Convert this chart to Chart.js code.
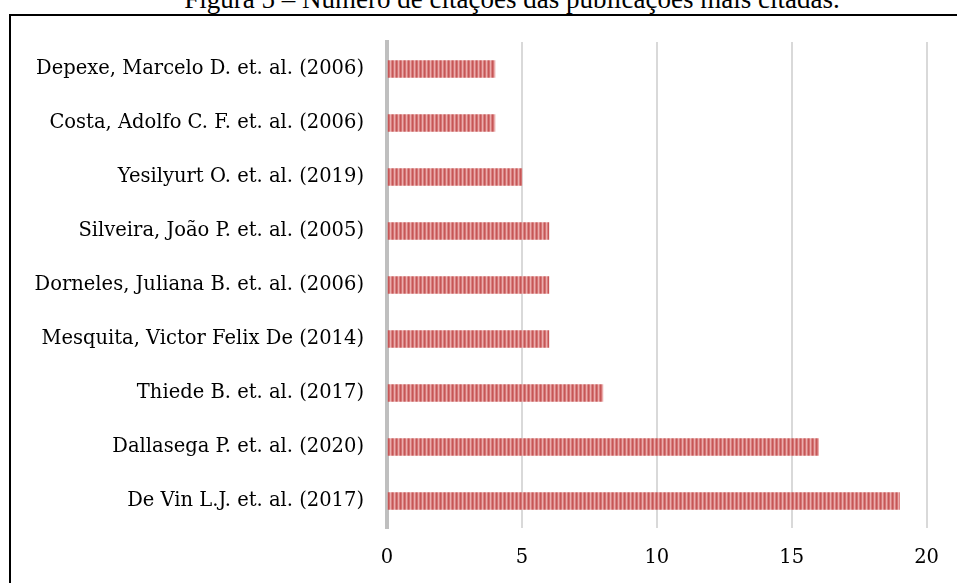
<!DOCTYPE html>
<html>
<head>
<meta charset="utf-8">
<script src="https://cdn.jsdelivr.net/npm/chart.js@4"></script>
<style>
    html, body { margin: 0; padding: 0; background: #fff; overflow: hidden; }
    body { width: 957px; height: 583px; position: relative; }
    #title {
        position: absolute; left: 0; width: 1024px; top: -14px;
        text-align: center; font: 27px "Liberation Serif", serif; color: #000;
        line-height: 27px; white-space: nowrap;
    }
    #frame {
        position: absolute; left: 9px; top: 14px; width: 960px; height: 600px;
        border: 2px solid #000; box-sizing: border-box;
    }
    #wrap { position: absolute; left: 0; top: 0; width: 957px; height: 583px; }
</style>
</head>
<body>
<div id="title">Figura 5 – Número de citações das publicações mais citadas.</div>
<div id="frame"></div>
<div id="wrap"><canvas id="citationsChart"></canvas></div>
<script>
    const publications = [
        "Depexe, Marcelo D. et. al. (2006)",
        "Costa, Adolfo C. F. et. al. (2006)",
        "Yesilyurt O. et. al. (2019)",
        "Silveira, João P. et. al. (2005)",
        "Dorneles, Juliana B. et. al. (2006)",
        "Mesquita, Victor Felix De (2014)",
        "Thiede B. et. al. (2017)",
        "Dallasega P. et. al. (2020)",
        "De Vin L.J. et. al. (2017)",
    ];
    const citations = [4, 4, 5, 6, 6, 6, 8, 16, 19];
    const xTicks = [0, 5, 10, 15, 20];

    // striped fill like the office "narrow vertical" pattern
    function stripes() {
        const c = document.createElement("canvas");
        c.width = 4;
        c.height = 1;
        const g = c.getContext("2d");
        const cols = ["#c65656", "#d47474", "#ebadad", "#d98080"];
        cols.forEach((col, i) => {
            g.fillStyle = col;
            g.fillRect(i, 0, 1, 1);
        });
        return g.createPattern(c, "repeat");
    }

    const labelFont = { family: "DejaVu Serif", size: 19.5 };

    const ctx = document.getElementById("citationsChart").getContext("2d");
    new Chart(ctx, {
        type: "bar",
        data: {
            labels: publications,
            datasets: [
                {
                    data: citations,
                    backgroundColor: stripes(),
                    borderWidth: 0,
                    barThickness: 17,
                },
            ],
        },
        options: {
            indexAxis: "y",
            responsive: true,
            maintainAspectRatio: false,
            animation: false,
            layout: { padding: { left: 0, right: 30, top: 42, bottom: 0 } },
            plugins: {
                legend: { display: false },
                tooltip: { enabled: false },
            },
            scales: {
                x: {
                    min: 0,
                    max: 20,
                    afterBuildTicks: (axis) => {
                        axis.ticks = xTicks.map((v) => ({ value: v }));
                    },
                    afterFit: (axis) => {
                        axis.height = 55;
                    },
                    grid: { color: "#d9d9d9", lineWidth: 2, drawTicks: false },
                    border: { display: false },
                    ticks: { color: "#000", font: labelFont, padding: 18 },
                },
                y: {
                    afterFit: (axis) => {
                        axis.width = 387;
                    },
                    grid: { display: false, drawTicks: false },
                    border: { color: "#bfbfbf", width: 4 },
                    ticks: { color: "#000", font: labelFont, padding: 23 },
                },
            },
        },
    });
</script>
</body>
</html>
